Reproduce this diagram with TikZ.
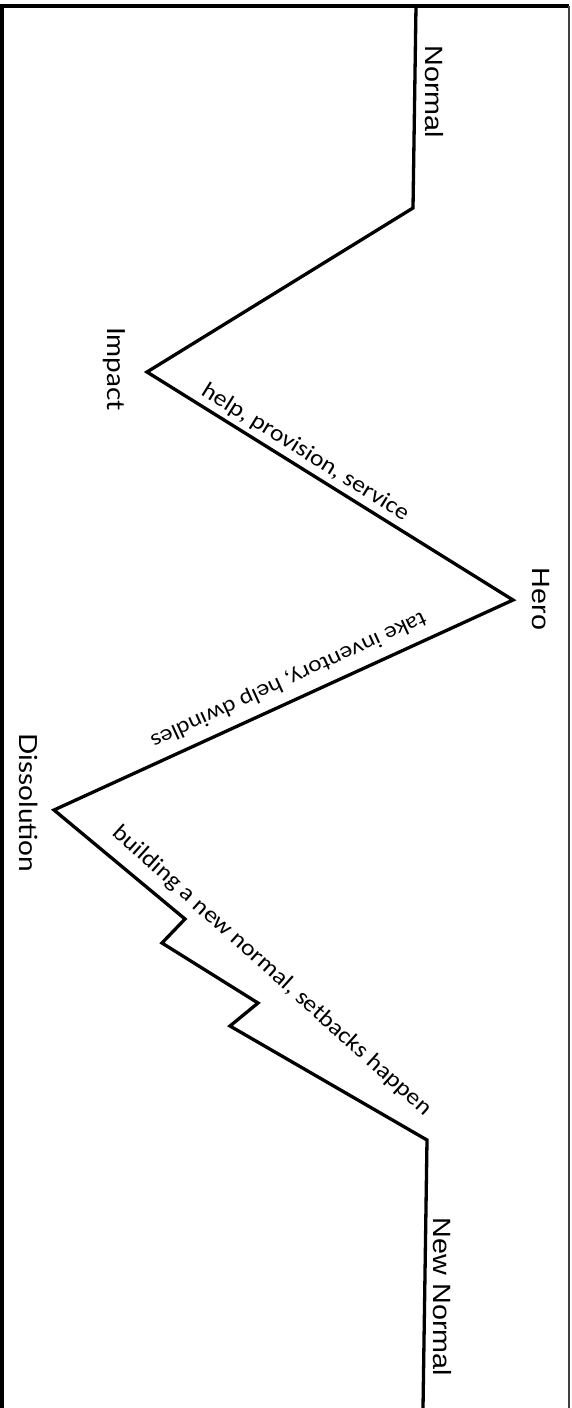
\documentclass[tikz,border=0pt]{standalone}
\usepackage{fontspec}
\newfontfamily\arialfont[FakeStretch=1.15]{Liberation Sans}
\newfontfamily\gillfont[FakeStretch=1.12]{Lato}
\newfontfamily\califont[FakeStretch=1.12]{Carlito}
\tikzstyle{phase} = [rotate=-90, inner sep=0pt,
    font=\arialfont\fontsize{25}{25}\selectfont]
\tikzstyle{phasegill} = [phase, font=\gillfont\fontsize{25}{25}\selectfont]
\tikzstyle{stage} = [inner sep=0pt, font=\califont\fontsize{23}{23}\selectfont]
\tikzstyle{course} = [line width=3.3pt, line join=miter]

\begin{document}
\begin{tikzpicture}[x=1pt,y=-1pt]
  \useasboundingbox (0,0) rectangle (571,1408);
  \draw[line width=3.5pt] (2,1408) -- (2,6) -- (569,6);
  \draw[line width=1.5pt,black!75] (569,6) -- (569,1408);

  \coordinate (start) at (416,6);
  \coordinate (normal) at (413,208);
  \coordinate (impact) at (147,372);
  \coordinate (hero) at (513,600);
  \coordinate (dissolution) at (54,810);
  \coordinate (set1a) at (185,919);
  \coordinate (set1b) at (162,943);
  \coordinate (set2a) at (258,1003);
  \coordinate (set2b) at (230,1026);
  \coordinate (newnormal) at (427,1140);
  \coordinate (end) at (423,1408);

  \node[phase] (lnormal) at (434,92) {Normal};
  \node[phasegill] (limpact) at (114,369) {Impact};
  \node[phase] (lhero) at (541,599) {Hero};
  \node[phasegill] (ldissolution) at (29,803) {Dissolution};
  \node[phase] (lnewnormal) at (442,1297) {New Normal};

  \draw[course] (start) -- (normal) -- (impact)
    -- node[stage,sloped,above=4pt,pos=0.41] (help) {help, provision, service} (hero)
    -- node[stage,sloped,allow upside down,below=10pt,pos=0.47,
         font=\gillfont\fontsize{21}{21}\selectfont] (take) {take inventory, help dwindles} (dissolution)
    -- (set1a) -- (set1b) -- (set2a) -- (set2b) -- (newnormal) -- (end);

  \node[stage,rotate=-42] (build) at (272,971) {building a new normal, setbacks happen};
\end{tikzpicture}
\end{document}
